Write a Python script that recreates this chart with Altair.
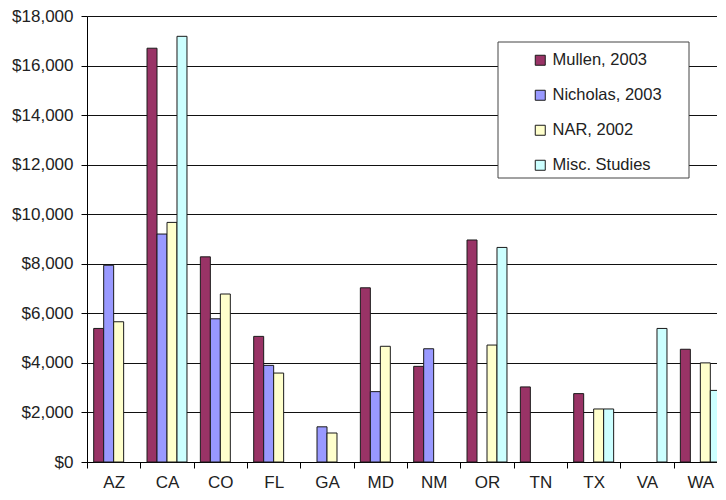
import altair as alt
import pandas as pd

states = ["AZ", "CA", "CO", "FL", "GA", "MD", "NM", "OR", "TN", "TX", "VA", "WA"]
series = ["Mullen, 2003", "Nicholas, 2003", "NAR, 2002", "Misc. Studies"]
colors = ["#993366", "#9999FF", "#FFFFCC", "#CCFFFF"]

mullen = [5390, 16700, 8280, 5070, None, 7030, 3860, 8960, 3030, 2760, None, 4550]
nicholas = [7940, 9200, 5780, 3900, 1420, 2840, 4570, None, None, None, None, None]
nar = [5660, 9670, 6780, 3590, 1170, 4670, None, 4720, None, 2140, None, 4000]
misc = [None, 17180, None, None, None, None, None, 8660, None, 2140, 5390, 2890]

y_ticks = list(range(0, 18001, 2000))

rows = []
for name, vals in zip(series, [mullen, nicholas, nar, misc]):
    for st, v in zip(states, vals):
        if v is not None:
            rows.append({"state": st, "series": name, "value": v})
df = pd.DataFrame(rows)

FONT = "Liberation Sans, Arial, sans-serif"

bars = alt.Chart(df).mark_bar(stroke="#1a1a1a", strokeWidth=1).encode(
    x=alt.X("state:N", sort=states, title=None,
            scale=alt.Scale(paddingInner=0, paddingOuter=0),
            axis=alt.Axis(labelAngle=0, tickBand="extent", tickSize=6,
                          labelPadding=6, domainColor="#000", tickColor="#000",
                          labelFontSize=17, labelColor="#222", labelFont=FONT)),
    xOffset=alt.XOffset("series:N", sort=series,
                        scale=alt.Scale(paddingInner=0, paddingOuter=0.67)),
    y=alt.Y("value:Q", title=None,
            scale=alt.Scale(domain=[0, 18000], nice=False),
            axis=alt.Axis(values=y_ticks, format="$,.0f", tickSize=6,
                          labelPadding=8, domainColor="#000", tickColor="#000",
                          gridColor="#111", gridWidth=1,
                          labelFontSize=17, labelColor="#222", labelFont=FONT)),
    color=alt.Color("series:N", sort=series,
                    scale=alt.Scale(domain=series, range=colors),
                    legend=alt.Legend(title=None, orient="none", legendX=445, legendY=36,
                                      symbolType="square", symbolSize=100,
                                      symbolStrokeColor="#1a1a1a", symbolStrokeWidth=1,
                                      labelFontSize=16.5, labelColor="#222", labelFont=FONT,
                                      rowPadding=18, labelOffset=4, padding=0)),
)

box = alt.Chart(pd.DataFrame({"box": [0]})).mark_rect(
    fill="white", stroke="#444", strokeWidth=1
).encode(
    x=alt.value(411), x2=alt.value(602), y=alt.value(26), y2=alt.value(162)
)

chart = alt.layer(bars, box).properties(
    width=640, height=446,
    autosize=alt.AutoSizeParams(type="none"),
    padding={"left": 79, "top": 8, "right": -10, "bottom": 30},
).configure_view(stroke=None).configure(background="white")

chart.save("out.html", embed_options={"renderer": "svg", "actions": False})
